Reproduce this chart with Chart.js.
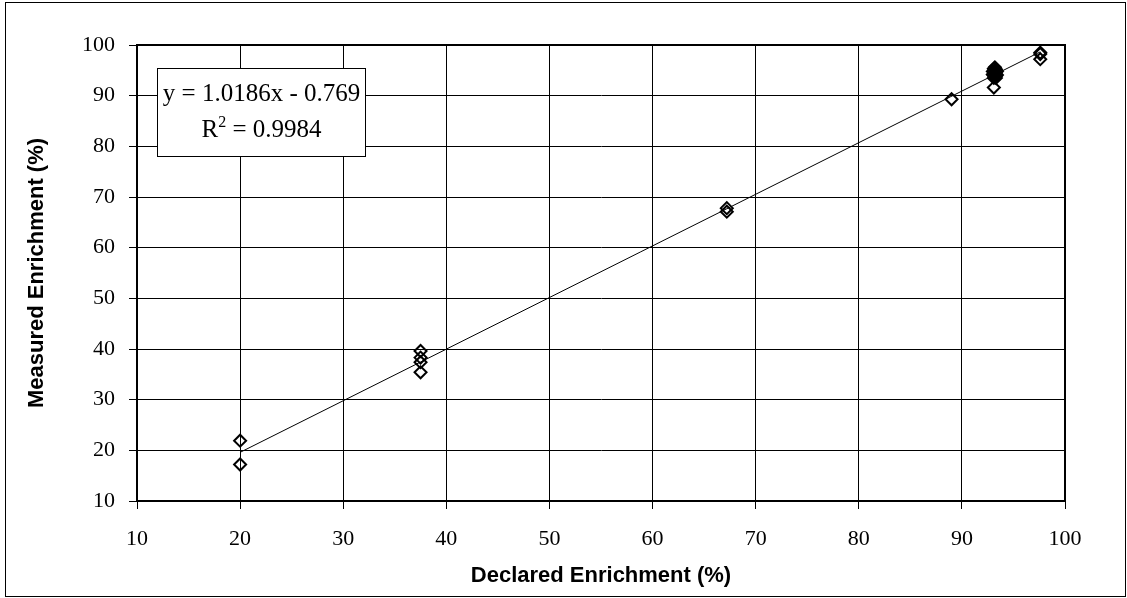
<!DOCTYPE html>
<html>
<head>
<meta charset="utf-8">
<script src="https://cdn.jsdelivr.net/npm/chart.js@4.4.1/dist/chart.umd.min.js"></script>
<style>
  html, body { margin: 0; padding: 0; background: #fff; }
  #wrap { width: 1127px; height: 598px; position: relative; }
</style>
</head>
<body>
<div id="wrap"><canvas id="c" width="1127" height="598"></canvas></div>
<script>
// Declared vs. measured enrichment (%) per sample
const declared = [
  20.0, 20.0,
  37.5, 37.5, 37.5, 37.5,
  67.2, 67.2,
  89.0,
  93.1,
  93.2, 93.1, 93.3, 93.2, 93.0, 93.4, 93.1, 93.3, 93.2,
  93.0, 93.4, 93.1, 93.3, 93.2, 93.1, 93.3, 93.2, 93.2,
  97.6, 97.6, 97.6
];
const measured = [
  21.9, 17.2,
  39.6, 38.3, 37.4, 35.4,
  67.8, 67.1,
  89.3,
  91.6,
  95.6, 95.3, 95.2, 95.0, 94.8, 94.8, 94.6, 94.5, 94.3,
  94.2, 94.1, 94.0, 93.9, 93.7, 93.5, 93.5, 94.9, 94.1,
  97.2, 98.2, 98.5
];

// Linear fit reported in the legend box
const fitSlope = 1.0186;
const fitIntercept = -0.769;
const fitR2 = 0.9984;
const fitRange = [20.0, 97.6];

const axisTicks = [10, 20, 30, 40, 50, 60, 70, 80, 90, 100];
const xTitle = 'Declared Enrichment (%)';
const yTitle = 'Measured Enrichment (%)';

const points = declared.map((x, i) => ({ x: x, y: measured[i] }));
const fitLine = fitRange.map(x => ({ x: x, y: fitSlope * x + fitIntercept }));

const serif = "'Liberation Serif', 'Times New Roman', serif";
const sans = "'Liberation Sans', Arial, sans-serif";

// Outer frame, plot frame and the regression equation box
const decor = {
  id: 'decor',
  beforeDraw(chart) {
    const ctx = chart.ctx;
    ctx.save();
    ctx.fillStyle = '#fff';
    ctx.fillRect(0, 0, chart.width, chart.height);
    ctx.strokeStyle = '#000';
    ctx.lineWidth = 1;
    ctx.strokeRect(5.5, 2.5, chart.width - 7, chart.height - 4);
    ctx.restore();
  },
  afterDatasetsDraw(chart) {
    const ctx = chart.ctx;
    const a = chart.chartArea;
    ctx.save();
    ctx.strokeStyle = '#000';
    ctx.lineWidth = 2;
    ctx.strokeRect(a.left, a.top, a.right - a.left, a.bottom - a.top);

    // equation box
    const bx = a.left + 20.5, by = a.top + 23.5, bw = 208, bh = 88;
    ctx.fillStyle = '#fff';
    ctx.fillRect(bx, by, bw, bh);
    ctx.lineWidth = 1;
    ctx.strokeRect(bx, by, bw, bh);
    ctx.fillStyle = '#000';
    ctx.textBaseline = 'alphabetic';
    ctx.textAlign = 'center';
    ctx.font = '25px ' + serif;
    const cx = bx + bw / 2;
    const sign = fitIntercept < 0 ? ' - ' : ' + ';
    ctx.fillText('y = ' + fitSlope.toFixed(4) + 'x' + sign + Math.abs(fitIntercept).toFixed(3), cx, by + 32);
    // second line: R² with raised 2
    const left = 'R', right = ' = ' + fitR2.toFixed(4);
    ctx.font = '25px ' + serif;
    const wL = ctx.measureText(left).width;
    const wR = ctx.measureText(right).width;
    ctx.font = '16px ' + serif;
    const wS = ctx.measureText('2').width;
    const total = wL + wS + wR;
    let x0 = cx - total / 2;
    const base2 = by + 68;
    ctx.textAlign = 'left';
    ctx.font = '25px ' + serif;
    ctx.fillText(left, x0, base2);
    ctx.font = '16px ' + serif;
    ctx.fillText('2', x0 + wL, base2 - 10);
    ctx.font = '25px ' + serif;
    ctx.fillText(right, x0 + wL + wS, base2);
    ctx.restore();
  }
};

new Chart(document.getElementById('c'), {
  type: 'scatter',
  data: {
    datasets: [
      {
        label: 'Fit',
        type: 'line',
        data: fitLine,
        borderColor: '#000',
        borderWidth: 1,
        pointRadius: 0,
        fill: false,
        order: 2
      },
      {
        label: 'Samples',
        data: points,
        pointStyle: 'rectRot',
        pointRadius: 6,
        pointBorderWidth: 2,
        borderColor: '#000',
        backgroundColor: 'rgba(0,0,0,0)',
        pointHoverRadius: 6,
        order: 1
      }
    ]
  },
  options: {
    responsive: false,
    animation: false,
    devicePixelRatio: 1,
    layout: { padding: { top: 45, right: 62, left: 0, bottom: 0 } },
    plugins: {
      legend: { display: false },
      tooltip: { enabled: false },
      title: { display: false }
    },
    scales: {
      x: {
        type: 'linear',
        min: axisTicks[0],
        max: axisTicks[axisTicks.length - 1],
        afterBuildTicks(scale) { scale.ticks = axisTicks.map(v => ({ value: v })); },
        afterFit(scale) { scale.height = 97; },
        ticks: {
          color: '#000',
          font: { family: serif, size: 22 },
          padding: 17,
          maxRotation: 0
        },
        grid: { color: '#000', lineWidth: 1, tickLength: 8, drawTicks: true },
        border: { color: '#000', width: 2 },
        title: {
          display: true,
          text: xTitle,
          color: '#000',
          font: { family: sans, size: 22, weight: 'bold' },
          padding: { top: 0, bottom: 9 }
        }
      },
      y: {
        type: 'linear',
        min: axisTicks[0],
        max: axisTicks[axisTicks.length - 1],
        afterBuildTicks(scale) { scale.ticks = axisTicks.map(v => ({ value: v })); },
        afterFit(scale) { scale.width = 137; },
        ticks: {
          color: '#000',
          font: { family: serif, size: 22 },
          padding: 14
        },
        grid: { color: '#000', lineWidth: 1, tickLength: 8, drawTicks: true },
        border: { color: '#000', width: 2 },
        title: {
          display: true,
          text: yTitle,
          color: '#000',
          font: { family: sans, size: 22, weight: 'bold' },
          padding: { top: 24, bottom: 0 }
        }
      }
    }
  },
  plugins: [decor]
});
</script>
</body>
</html>
